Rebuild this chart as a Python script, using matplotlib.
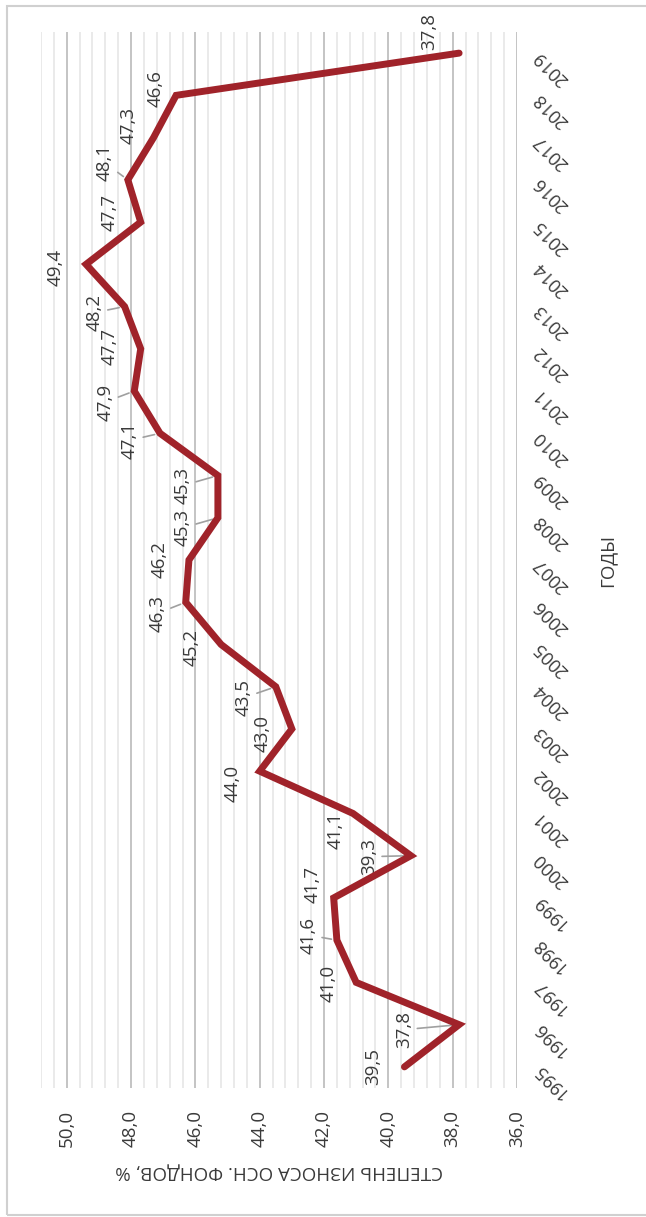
import matplotlib.pyplot as plt
import numpy as np
from matplotlib.patches import Rectangle

years = list(range(1995, 2020))
wear = [39.5, 37.8, 41.0, 41.6, 41.7, 39.3, 41.1, 44.0, 43.0, 43.5,
        45.2, 46.3, 46.2, 45.3, 45.3, 47.1, 47.9, 47.7, 48.2, 49.4,
        47.7, 48.1, 47.3, 46.6, 37.8]
value_ticks = [50, 48, 46, 44, 42, 40, 38, 36]
value_tick_labels = ['50,0', '48,0', '46,0', '44,0', '42,0', '40,0', '38,0', '36,0']
x_title = 'СТЕПЕНЬ ИЗНОСА ОСН. ФОНДОВ, %'
y_title = 'ГОДЫ'

# label offsets in screen pixels (dx right, dy down) and leader line flags
label_px = {1995: (-31, 0), 1996: (-55, 5), 1997: (-28, 1), 1998: (-28, -5),
            1999: (-21, -13), 2000: (-42, 1), 2001: (-17, 17), 2002: (-27, 12),
            2003: (-29, 5), 2004: (-32, 11), 2005: (-29, 3), 2006: (-28, 11),
            2007: (-29, 0), 2008: (-35, 10), 2009: (-35, 10), 2010: (-30, 7),
            2011: (-29, 11), 2012: (-31, -2), 2013: (-30, 6), 2014: (-30, 3),
            2015: (-31, -10), 2016: (-23, -17), 2017: (-25, -12), 2018: (-20, -7),
            2019: (-30, -22)}
leaders = {1996, 1998, 2000, 2004, 2006, 2008, 2009, 2010, 2011, 2013, 2016}

plt.rcParams['font.family'] = ['Open Sans', 'DejaVu Sans']
txt = '#3a3a3a'
W, H = 646, 1217
fig = plt.figure(figsize=(W / 100, H / 100), dpi=100)
ax = fig.add_axes([41 / W, 1 - 1088 / H, (517 - 41) / W, (1088 - 32) / H])

ax.plot(wear, years, color='#A0232A', lw=5, solid_capstyle='round',
        solid_joinstyle='miter', zorder=3)

for yr, v in zip(years, wear):
    dx, dy = label_px[yr]
    s = f'{v:.1f}'.replace('.', ',')
    ap = dict(arrowstyle='-', color='#a0a0a0', lw=1.2, shrinkA=1, shrinkB=4) if yr in leaders else None
    ax.annotate(s, xy=(v, yr), xytext=(dx * 0.72, -dy * 0.72), textcoords='offset points',
                ha='center', va='center', rotation=90, fontsize=13.5, color=txt,
                arrowprops=ap, zorder=2, annotation_clip=False)

ax.set_xlim(50.8, 36)
ax.set_ylim(1994.5, 2019.5)
ax.set_xticks(value_ticks)
ax.set_xticklabels(value_tick_labels, rotation=90, fontsize=13.5, color=txt)
ax.set_xticks(np.arange(36, 50.81, 0.4), minor=True)
ax.grid(axis='x', which='major', color='#c4c4c4', lw=1.4)
ax.grid(axis='x', which='minor', color='#e6e6e6', lw=1.2)
ax.set_axisbelow(True)
ax.tick_params(axis='x', which='both', length=0, pad=16)

ax.yaxis.tick_right()
ax.set_yticks(years)
ax.set_yticklabels([str(y) for y in years], fontsize=13, color=txt)
plt.setp(ax.get_yticklabels(), rotation=135, ha='right', va='center', rotation_mode='anchor')
ax.tick_params(axis='y', length=0, pad=14)

for sp in ax.spines.values():
    sp.set_visible(False)

fig.text(279 / W, 1 - 1172 / H, x_title, rotation=180, ha='center', va='center',
         fontsize=13.5, color=txt)
fig.text(607 / W, 1 - 560 / H, y_title, rotation=90, ha='center', va='center',
         fontsize=13.5, color=txt)

fig.patches.append(Rectangle((7 / W, 1 - 1215 / H), 1.0, (1215 - 6) / H,
                             transform=fig.transFigure, fill=False,
                             edgecolor='#d0d0d0', lw=1.5))

fig.savefig('out.png', dpi=100)
